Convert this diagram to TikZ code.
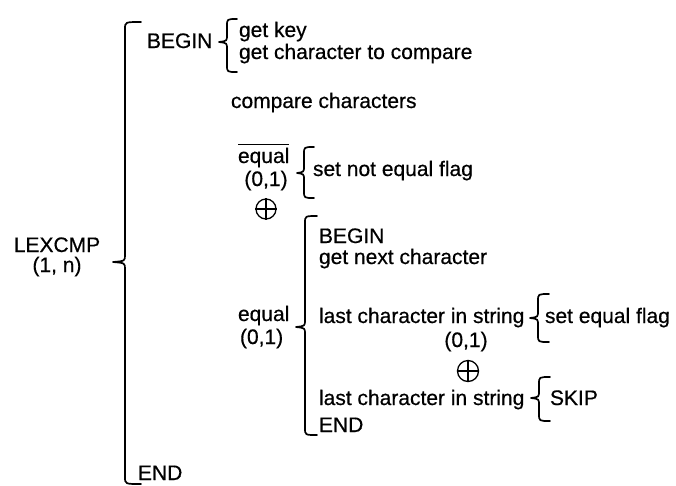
\documentclass[tikz,border=0pt]{standalone}
\usepackage{fontspec}
\setmainfont{Liberation Sans}[FakeBold=0.5]
\tikzset{
  txt/.style={inner sep=0pt, outer sep=0pt, font=\fontsize{21}{24}\selectfont},
  lt/.style={txt, anchor=base west},
  ct/.style={txt, anchor=base},
  wbr/.style={line width=1.7pt, line cap=round, line join=round},
  oplus/.style={draw, circle, line width=1.3pt, minimum size=#1, inner sep=0pt},
}
% #1 x of vertical, #2 top, #3 tip y, #4 bottom, #5 tip x, #6 hook length
\newcommand\wobrace[6]{%
  \draw[wbr] ({#1+#6},#2) .. controls (#1,#2) .. (#1,{#2+7}) -- (#1,{#3-7})
    .. controls (#1,{#3-1}) .. (#5,#3) .. controls (#1,{#3+1}) .. (#1,{#3+7})
    -- (#1,{#4-7}) .. controls (#1,#4) .. ({#1+#6},#4);}
\begin{document}
\begin{tikzpicture}[x=1pt,y=-1pt]
\useasboundingbox[fill=white] (0,0) rectangle (676,485);
% top level
\node[ct] (lex) at (57,252) {LEXCMP};
\node[ct] (lexn) at (57,272) {(1, n)};
\wobrace{125}{22}{262}{484}{113}{16}
\node[lt] (b1) at (147,48) {BEGIN};
\wobrace{227}{19}{42}{72}{219}{10}
\node[lt] (gk) at (239,37) {get key};
\node[lt] (gc) at (239,59) {get character to compare};
\node[lt] (cc) at (231,108) {compare characters};
% not equal
\node[lt] (ne) at (238,163) {equal};
\draw[line width=1.3pt] (ne.north west) ++(0,-3.5) coordinate (o1) -- (o1 -| ne.east);
\node[ct] (ne01) at (266,186) {(0,1)};
\node[oplus=20pt] (x1) at (266,209) {};
\draw[line width=1.3pt] (x1.north) -- (x1.south) (x1.west) -- (x1.east);
\wobrace{304}{147}{173}{198}{297}{10}
\node[lt] (snef) at (313,176) {set not equal flag};
% equal
\node[lt] (eq) at (238,321) {equal};
\node[lt] (eq01) at (240,344) {(0,1)};
\wobrace{305}{216}{327}{435}{296}{12}
\node[lt] (b2) at (319,243) {BEGIN};
\node[lt] (gn) at (319,264) {get next character};
\node[lt] (lc1) at (319,323) {last character in string};
\wobrace{538}{294}{318}{342}{530}{11}
\node[lt] (sef) at (545,323) {set equal flag};
\node[ct] (eq01b) at (466,347) {(0,1)};
\node[oplus=21pt] (x2) at (468,371) {};
\draw[line width=1.3pt] (x2.north) -- (x2.south) (x2.west) -- (x2.east);
\node[lt] (lc2) at (319,405) {last character in string};
\wobrace{539}{377}{398}{421}{531}{11}
\node[lt] (skip) at (550,405) {SKIP};
\node[lt] (e2) at (319,432) {END};
\node[lt] (e1) at (138,480) {END};
\end{tikzpicture}
\end{document}
